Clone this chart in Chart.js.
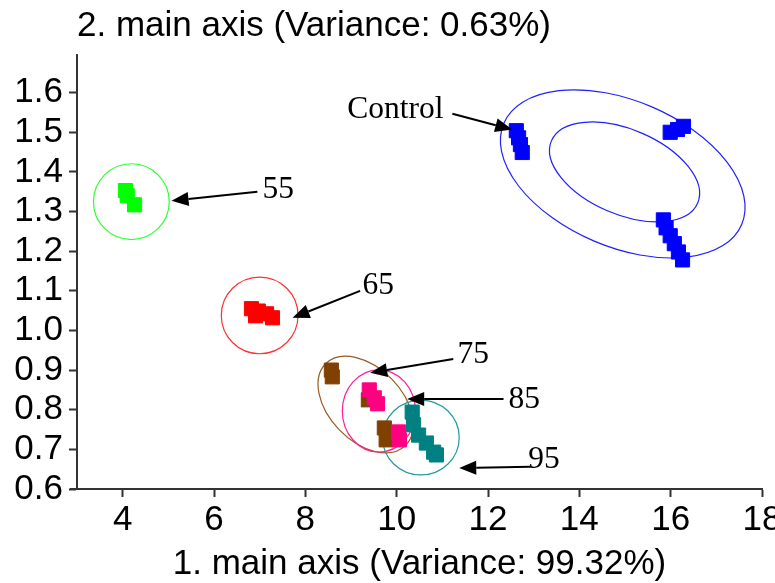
<!DOCTYPE html>
<html>
<head>
<meta charset="utf-8">
<title>Main axis scores</title>
<script src="https://cdn.jsdelivr.net/npm/chart.js@4.4.1/dist/chart.umd.min.js"></script>
<style>
  html, body { margin: 0; padding: 0; background: #fff; }
  #wrap { width: 775px; height: 583px; }
</style>
</head>
<body>
<div id="wrap"><canvas id="myChart"></canvas></div>
<script>
// Axis ticks
const xTicks = [4, 6, 8, 10, 12, 14, 16, 18];
const yTicks = [0.6, 0.7, 0.8, 0.9, 1.0, 1.1, 1.2, 1.3, 1.4, 1.5, 1.6];

// Scores of each group (1. main axis, 2. main axis)
const controlX = [12.62, 12.67, 12.71, 12.75, 15.99, 16.15, 16.28, 15.84, 15.90, 15.99, 16.08, 16.17, 16.26];
const controlY = [1.504, 1.486, 1.469, 1.449, 1.500, 1.507, 1.515, 1.279, 1.259, 1.239, 1.219, 1.198, 1.178];
const g55X = [4.06, 4.10, 4.26];
const g55Y = [1.353, 1.340, 1.317];
const g65X = [6.82, 6.91, 6.97, 7.15, 7.28];
const g65Y = [1.055, 1.037, 1.049, 1.042, 1.032];
const g75X = [8.57, 8.59, 9.38, 9.73, 9.77];
const g75Y = [0.900, 0.883, 0.825, 0.754, 0.724];
const g85X = [9.40, 9.51, 9.58, 10.04, 10.06];
const g85Y = [0.850, 0.830, 0.815, 0.744, 0.724];
const g95X = [10.34, 10.37, 10.48, 10.65, 10.81, 10.87];
const g95Y = [0.794, 0.762, 0.736, 0.716, 0.693, 0.686];

const toPoints = (xs, ys) => xs.map((x, i) => ({ x: x, y: ys[i] }));

// Confidence ellipses: centre in data units, half axes in x-axis units, angle in degrees
const ellipses = [
  { cx: 14.95, cy: 1.395, a: 2.83, b: 1.60, angle: 23, color: '#2020ff' },
  { cx: 14.99, cy: 1.400, a: 1.74, b: 0.93, angle: 23, color: '#2020ff' },
  { cx: 4.19, cy: 1.325, a: 0.83, b: 0.83, angle: 0, color: '#30ff30' },
  { cx: 7.00, cy: 1.038, a: 0.84, b: 0.84, angle: 0, color: '#ff3030' },
  { cx: 9.32, cy: 0.813, a: 1.25, b: 0.80, angle: 46, color: '#9a5a20' },
  { cx: 9.61, cy: 0.797, a: 0.80, b: 0.90, angle: 0, color: '#ff2090' },
  { cx: 10.53, cy: 0.730, a: 0.84, b: 0.82, angle: 0, color: '#209a9a' }
];

// Labels with arrows (text position, arrow start, arrow tip)
const arrows = [
  { text: 'Control', tx: 8.92, ty: 1.557, x1: 11.22, y1: 1.547, x2: 12.53, y2: 1.507 },
  { text: '55', tx: 7.06, ty: 1.355, x1: 6.95, y1: 1.350, x2: 5.07, y2: 1.327 },
  { text: '65', tx: 9.25, ty: 1.113, x1: 9.20, y1: 1.100, x2: 7.72, y2: 1.032 },
  { text: '75', tx: 11.33, ty: 0.938, x1: 11.24, y1: 0.928, x2: 9.42, y2: 0.893 },
  { text: '85', tx: 12.45, ty: 0.825, x1: 12.34, y1: 0.827, x2: 10.23, y2: 0.827 },
  { text: '95', tx: 12.88, ty: 0.673, x1: 12.93, y1: 0.656, x2: 11.37, y2: 0.653 }
];

// Draw the ellipses under the points
const ellipsePlugin = {
  id: 'ellipses',
  beforeDatasetsDraw(chart) {
    const { ctx, scales: { x, y } } = chart;
    const unit = x.getPixelForValue(1) - x.getPixelForValue(0);
    ctx.save();
    ctx.lineWidth = 1.2;
    ellipses.forEach(e => {
      ctx.strokeStyle = e.color;
      ctx.beginPath();
      ctx.ellipse(x.getPixelForValue(e.cx), y.getPixelForValue(e.cy),
        e.a * unit, e.b * unit, e.angle * Math.PI / 180, 0, Math.PI * 2);
      ctx.stroke();
    });
    ctx.restore();
  }
};

// Arrows, group names and the title of the 2. main axis
const notePlugin = {
  id: 'notes',
  afterDatasetsDraw(chart) {
    const { ctx, scales: { x, y } } = chart;
    ctx.save();
    ctx.fillStyle = '#000';
    ctx.strokeStyle = '#000';
    ctx.lineWidth = 2;
    arrows.forEach(a => {
      const px1 = x.getPixelForValue(a.x1), py1 = y.getPixelForValue(a.y1);
      const px2 = x.getPixelForValue(a.x2), py2 = y.getPixelForValue(a.y2);
      const ang = Math.atan2(py2 - py1, px2 - px1);
      const len = 17, half = 7;
      const bx = px2 - len * Math.cos(ang), by = py2 - len * Math.sin(ang);
      ctx.beginPath();
      ctx.moveTo(px1, py1);
      ctx.lineTo(bx, by);
      ctx.stroke();
      ctx.beginPath();
      ctx.moveTo(px2, py2);
      ctx.lineTo(bx + half * Math.sin(ang), by - half * Math.cos(ang));
      ctx.lineTo(bx - half * Math.sin(ang), by + half * Math.cos(ang));
      ctx.closePath();
      ctx.fill();
      ctx.font = '31.5px "Liberation Serif", "Times New Roman", serif';
      ctx.textAlign = 'left';
      ctx.textBaseline = 'middle';
      ctx.fillText(a.text, x.getPixelForValue(a.tx), y.getPixelForValue(a.ty));
    });
    // the x-axis line runs a little past the y axis in the original
    ctx.strokeStyle = '#333';
    ctx.beginPath();
    ctx.moveTo(chart.chartArea.left - 7, chart.chartArea.bottom);
    ctx.lineTo(chart.chartArea.left, chart.chartArea.bottom);
    ctx.stroke();
    ctx.font = '35px "Liberation Sans", Arial, sans-serif';
    ctx.textBaseline = 'alphabetic';
    ctx.fillText('2. main axis (Variance: 0.63%)', chart.chartArea.left, 36);
    ctx.restore();
  }
};

const square = (label, xs, ys, color, order) => ({
  label: label,
  data: toPoints(xs, ys),
  backgroundColor: color,
  borderColor: color,
  pointStyle: 'rect',
  pointRadius: 10,
  pointBorderWidth: 1,
  order: order
});

const ctx = document.getElementById('myChart').getContext('2d');

new Chart(ctx, {
  type: 'scatter',
  data: {
    datasets: [
      square('Control', controlX, controlY, '#0000ff', 6),
      square('55', g55X, g55Y, '#00ff00', 5),
      square('65', g65X, g65Y, '#ff0000', 4),
      square('95', g95X, g95Y, '#008080', 3),
      square('75', g75X, g75Y, '#804000', 2),
      square('85', g85X, g85Y, '#ff0080', 1)
    ]
  },
  options: {
    responsive: true,
    maintainAspectRatio: false,
    animation: false,
    layout: { padding: { top: 55, right: 13, left: 0, bottom: 0 } },
    plugins: {
      legend: { display: false },
      tooltip: { enabled: false }
    },
    scales: {
      x: {
        type: 'linear',
        min: 3,
        max: 18,
        afterBuildTicks: s => { s.ticks = xTicks.map(v => ({ value: v })); },
        afterFit: s => { s.height = 94; s.paddingLeft = 0; s.paddingRight = 0; },
        border: { display: true, color: '#333', width: 2 },
        grid: { drawOnChartArea: false, drawTicks: true, tickLength: 8, tickColor: '#333', tickWidth: 2 },
        ticks: {
          color: '#000',
          padding: 2,
          maxRotation: 0,
          autoSkip: false,
          font: { family: '"Liberation Sans", Arial, sans-serif', size: 35 }
        },
        title: {
          display: true,
          text: '1. main axis (Variance: 99.32%)',
          color: '#000',
          padding: { top: 0, bottom: 1 },
          font: { family: '"Liberation Sans", Arial, sans-serif', size: 35, lineHeight: 1 }
        }
      },
      y: {
        type: 'linear',
        min: 0.6,
        max: 1.695,
        afterBuildTicks: s => { s.ticks = yTicks.map(v => ({ value: v })); },
        afterFit: s => { s.width = 77; s.paddingTop = 0; s.paddingBottom = 0; },
        border: { display: true, color: '#333', width: 2 },
        grid: { drawOnChartArea: false, drawTicks: true, tickLength: 8, tickColor: '#333', tickWidth: 2 },
        ticks: {
          color: '#000',
          padding: 6,
          autoSkip: false,
          callback: v => v.toFixed(1),
          font: { family: '"Liberation Sans", Arial, sans-serif', size: 35, lineHeight: 1 }
        }
      }
    }
  },
  plugins: [ellipsePlugin, notePlugin]
});
</script>
</body>
</html>
